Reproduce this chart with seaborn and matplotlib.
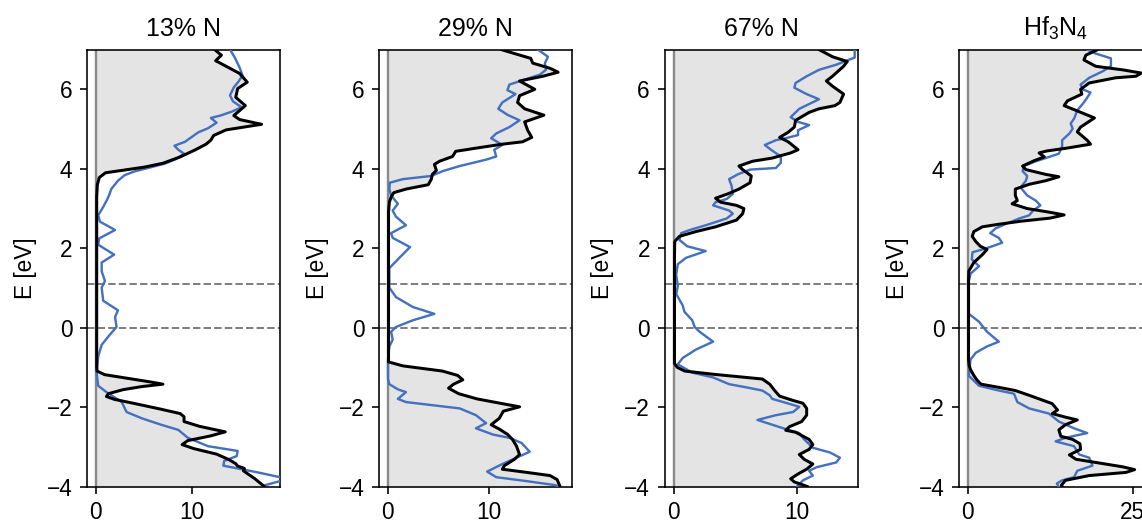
import matplotlib
matplotlib.use("Agg")
import matplotlib.pyplot as plt
import seaborn as sns
import pandas as pd

# ---- density of states, E in eV, DOS in states/eV ----
titles = ["13% N", "29% N", "67% N", "Hf$_3$N$_4$"]

# 13% N
e_tot_13 = [7.0, 6.86, 6.72, 6.58, 6.40, 6.18, 6.02, 5.80, 5.59, 5.34, 5.24, 5.12, 4.98, 4.84, 4.72,
            4.62, 4.48, 4.30, 4.14, 4.04, 3.97, 3.90, 3.78, 3.60, 3.30, 1.0, -1.0, -1.09, -1.18, -1.28,
            -1.36, -1.42, -1.48, -1.56, -1.66, -1.73, -1.80, -1.91, -2.05, -2.16, -2.24, -2.36, -2.48,
            -2.62, -2.72, -2.84, -2.94, -3.04, -3.18, -3.32, -3.42, -3.48, -3.54, -3.60, -3.80, -4.0]
d_tot_13 = [12.4, 13.1, 12.5, 13.6, 15.0, 15.8, 14.8, 14.6, 15.6, 14.4, 15.0, 17.3, 13.6, 12.3, 12.0,
            11.5, 10.4, 8.8, 7.0, 5.0, 3.0, 1.0, 0.35, 0.15, 0.08, 0.08, 0.08, 0.12, 0.9, 3.5,
            5.6, 7.0, 4.8, 2.8, 1.3, 1.1, 1.9, 4.1, 6.8, 8.8, 9.2, 9.2, 10.8,
            13.5, 12.0, 9.6, 9.0, 10.2, 12.6, 13.9, 14.6, 14.8, 15.5, 15.4, 16.6, 17.6]
e_ref_13 = [7.0, 6.80, 6.55, 6.35, 6.20, 6.05, 5.85, 5.70, 5.55, 5.44, 5.34, 5.28, 5.16, 5.02, 4.92,
            4.80, 4.68, 4.58, 4.48, 4.38, 4.25, 4.13, 4.03, 3.94, 3.84, 3.70, 3.49, 3.35, 3.24, 3.04,
            2.83, 2.67, 2.46, 2.25, 2.09, 1.84, 1.64, 1.42, 1.18, 1.01, 0.68, 0.44, 0.27, 0.02, -0.22,
            -0.43, -0.72, -1.13, -1.46, -1.62, -1.87, -2.12, -2.28, -2.44, -2.57, -2.77, -2.98, -3.10,
            -3.23, -3.35, -3.47, -3.64, -3.76, -3.80, -3.86, -3.96, -4.0]
d_ref_13 = [14.0, 14.5, 15.0, 15.3, 14.9, 14.4, 14.0, 14.3, 15.2, 14.2, 13.0, 12.0, 12.6, 11.7, 10.7,
            10.0, 9.3, 8.2, 8.6, 9.2, 8.4, 7.2, 5.6, 4.1, 3.0, 2.3, 1.6, 1.4, 1.2, 0.76,
            0.24, 0.42, 2.0, 0.35, 0.24, 1.9, 0.6, 0.6, 0.94, 0.6, 0.76, 2.3, 2.0, 2.15, 1.3,
            0.6, 0.24, 0.07, 0.24, 1.1, 2.7, 3.2, 4.8, 6.8, 8.6, 9.6, 11.7, 14.8,
            14.7, 13.4, 13.3, 16.9, 19.2, 20.2, 19.2, 17.7, 17.4]

# 29% N
e_tot_29 = [7.0, 6.90, 6.78, 6.66, 6.53, 6.43, 6.33, 6.21, 6.00, 5.84, 5.67, 5.51, 5.35, 5.18, 4.97,
            4.79, 4.68, 4.62, 4.52, 4.44, 4.31, 4.19, 4.11, 3.96, 3.86, 3.74, 3.60, 3.49, 3.40, 3.30,
            3.16, 2.91, -0.86, -0.96, -1.09, -1.20, -1.31, -1.42, -1.52, -1.66, -1.79, -1.91, -1.99,
            -2.10, -2.28, -2.44, -2.55, -2.68, -2.81, -2.98, -3.19, -3.31, -3.47, -3.56, -3.64, -3.72,
            -3.82, -4.0]
d_tot_29 = [11.2, 12.5, 14.1, 14.3, 16.0, 16.8, 15.3, 13.0, 14.5, 13.0, 12.8, 13.5, 15.4, 13.5, 13.8,
            14.2, 13.3, 11.3, 8.7, 6.7, 6.4, 5.1, 4.6, 4.8, 4.4, 4.3, 4.0, 1.8, 0.6, 0.35,
            0.16, 0.08, 0.08, 1.5, 5.4, 6.9, 7.4, 6.5, 6.0, 7.0, 8.8, 11.3, 13.0,
            11.4, 11.0, 10.2, 11.0, 11.8, 12.3, 12.7, 13.0, 12.5, 11.5, 11.3, 13.7, 16.0,
            16.7, 17.0]
e_ref_29 = [7.0, 6.82, 6.66, 6.49, 6.37, 6.27, 6.12, 5.98, 5.88, 5.67, 5.51, 5.36, 5.22, 5.05, 4.89,
            4.77, 4.60, 4.48, 4.31, 4.23, 4.07, 3.94, 3.82, 3.74, 3.65, 3.49, 3.33, 3.12, 2.95, 2.80,
            2.58, 2.38, 2.26, 2.03, 1.76, 1.50, 1.01, 0.77, 0.52, 0.35, 0.19, 0.02, -0.10, -0.30,
            -0.47, -0.80, -1.29, -1.42, -1.55, -1.62, -1.79, -1.87, -2.03, -2.20, -2.40, -2.53, -2.69,
            -2.77, -2.90, -3.12, -3.27, -3.43, -3.62, -3.76, -3.86, -3.96, -4.0]
d_ref_29 = [14.8, 15.8, 15.5, 15.6, 15.0, 13.8, 12.0, 11.8, 12.6, 11.3, 10.9, 11.8, 13.0, 12.0, 10.7,
            10.2, 11.3, 10.5, 10.7, 9.7, 7.1, 5.4, 4.3, 1.5, 0.2, 0.16, 0.33, 1.0, 0.49, 0.8,
            1.8, 0.33, 0.5, 2.2, 1.15, 0.16, 0.16, 0.82, 2.5, 4.6, 2.5, 0.82, 0.33, 0.49,
            0.16, 0.03, 0.03, 0.16, 1.0, 1.8, 1.0, 1.8, 7.1, 8.7, 9.7, 8.7, 10.4,
            12.0, 13.2, 14.0, 12.7, 11.3, 9.8, 10.7, 13.7, 16.5, 17.0]

# 67% N
e_tot_67 = [7.0, 6.82, 6.70, 6.58, 6.33, 6.21, 6.08, 5.88, 5.67, 5.59, 5.51, 5.42, 5.22, 5.05, 4.92,
            4.79, 4.68, 4.48, 4.40, 4.27, 4.19, 4.07, 3.98, 3.82, 3.65, 3.49, 3.37, 3.26, 3.16, 3.08,
            3.00, 2.87, 2.71, 2.54, 2.42, 2.30, 2.17, 1.75, -0.90, -1.00, -1.09, -1.17, -1.29, -1.42,
            -1.58, -1.72, -1.83, -1.90, -2.03, -2.20, -2.36, -2.49, -2.58, -2.63, -2.81, -2.94, -3.06,
            -3.19, -3.31, -3.43, -3.56, -3.68, -3.80, -3.88, -4.0]
d_tot_67 = [11.8, 12.9, 14.1, 13.8, 12.9, 12.4, 12.9, 13.8, 13.5, 13.1, 11.8, 11.0, 9.9, 9.8, 9.3,
            8.6, 9.3, 10.1, 9.5, 8.0, 6.4, 5.3, 5.6, 6.3, 6.2, 5.3, 4.4, 3.4, 3.8, 5.1,
            5.7, 5.6, 5.1, 3.4, 1.8, 0.46, 0.08, 0.06, 0.06, 0.3, 0.9, 3.2, 7.2, 7.8,
            8.2, 8.6, 9.7, 10.5, 10.8, 10.8, 10.4, 9.4, 9.1, 9.9, 11.0, 11.3, 11.0,
            10.2, 10.6, 11.3, 10.8, 10.1, 9.5, 9.8, 10.9]
e_ref_67 = [7.0, 6.80, 6.62, 6.49, 6.33, 6.16, 6.04, 5.88, 5.75, 5.63, 5.51, 5.30, 5.18, 5.10, 4.97,
            4.85, 4.77, 4.72, 4.60, 4.48, 4.31, 4.15, 4.02, 3.98, 3.86, 3.74, 3.57, 3.37, 3.24, 3.16,
            3.08, 2.95, 2.87, 2.75, 2.58, 2.46, 2.38, 2.21, 2.05, 1.93, 1.76, 1.60, 1.34, 1.05, 0.85,
            0.56, 0.40, 0.19, 0.02, -0.10, -0.35, -0.55, -0.76, -0.92, -1.13, -1.25, -1.42, -1.50,
            -1.58, -1.70, -1.79, -1.87, -1.99, -2.12, -2.20, -2.32, -2.53, -2.65, -2.81, -3.02, -3.14,
            -3.27, -3.39, -3.51, -3.60, -3.72, -3.84, -4.0]
d_ref_67 = [14.7, 14.7, 13.2, 11.8, 10.8, 9.9, 9.8, 10.8, 11.8, 11.0, 10.2, 9.5, 10.1, 11.0, 10.1,
            10.1, 9.1, 8.3, 7.4, 7.9, 8.7, 8.7, 8.3, 6.2, 5.2, 4.5, 4.7, 4.8, 4.3, 3.4,
            3.2, 4.5, 4.8, 4.3, 2.6, 1.3, 0.6, 0.46, 1.1, 2.6, 1.0, 0.33, 0.2, 0.33, 0.2,
            0.73, 0.87, 1.5, 1.7, 2.1, 3.2, 1.8, 0.73, 0.33, 1.5, 3.2, 4.5, 5.9,
            7.2, 7.8, 8.0, 8.9, 10.2, 9.7, 8.3, 6.8, 8.9, 10.2, 10.6, 11.3, 12.7,
            13.5, 13.2, 11.6, 11.0, 11.3, 10.5, 10.0]

# Hf3N4
e_tot_hf = [7.0, 6.86, 6.74, 6.58, 6.49, 6.41, 6.33, 6.29, 6.16, 6.00, 5.88, 5.71, 5.59, 5.47, 5.28,
            5.05, 4.93, 4.72, 4.62, 4.52, 4.45, 4.40, 4.30, 4.20, 4.07, 3.98, 3.86, 3.80, 3.70, 3.61,
            3.49, 3.33, 3.20, 3.12, 3.00, 2.91, 2.84, 2.76, 2.68, 2.60, 2.54, 2.42, 2.30, 2.17, 2.05,
            1.97, 1.84, 1.64, 1.43, 1.20, -0.80, -0.95, -1.05, -1.20, -1.32, -1.42, -1.50, -1.58,
            -1.70, -1.91, -2.07, -2.16, -2.25, -2.32, -2.44, -2.57, -2.73, -2.81, -2.92, -3.06, -3.20,
            -3.31, -3.43, -3.50, -3.57, -3.64, -3.72, -3.84, -3.96, -4.0]
d_tot_hf = [19.7, 17.9, 17.6, 19.4, 23.5, 26.3, 25.5, 22.4, 18.4, 17.1, 17.3, 15.1, 14.6, 16.4, 19.2,
            17.1, 16.6, 18.1, 18.6, 15.0, 12.0, 10.8, 11.6, 10.0, 8.3, 8.8, 11.8, 13.8, 11.8, 9.3,
            7.2, 7.2, 7.5, 6.7, 9.0, 12.3, 14.6, 12.5, 8.0, 4.5, 2.2, 0.9, 0.66, 1.2, 1.9,
            2.9, 2.2, 0.9, 0.15, 0.1, 0.1, 0.2, 0.4, 0.9, 1.4, 2.0, 4.7, 7.2,
            9.3, 12.8, 13.6, 12.8, 14.8, 16.6, 14.8, 13.8, 14.1, 15.9, 17.0, 17.1, 15.4,
            16.4, 20.9, 23.5, 25.3, 24.0, 18.4, 14.8, 14.2, 14.3]
e_ref_hf = [7.0, 6.90, 6.78, 6.58, 6.45, 6.29, 6.12, 6.00, 5.92, 5.79, 5.63, 5.47, 5.26, 5.14, 5.01,
            4.89, 4.72, 4.56, 4.38, 4.27, 4.19, 4.07, 3.94, 3.82, 3.70, 3.53, 3.33, 3.20, 3.08, 2.95,
            2.83, 2.75, 2.63, 2.50, 2.38, 2.26, 2.14, 2.05, 1.97, 1.90, 1.72, 1.55, 1.36, 1.18, 0.35,
            0.15, -0.10, -0.35, -0.47, -0.63, -0.80, -1.21, -1.46, -1.58, -1.66, -1.87, -2.03, -2.16,
            -2.36, -2.53, -2.65, -2.77, -2.86, -2.98, -3.19, -3.27, -3.47, -3.60, -3.76, -3.84, -3.92,
            -4.0]
d_ref_hf = [18.1, 19.4, 21.7, 21.7, 20.4, 18.4, 17.1, 17.4, 18.6, 18.1, 17.4, 16.6, 16.1, 15.6, 15.9,
            15.4, 14.3, 14.3, 13.8, 11.8, 10.3, 8.5, 8.3, 9.0, 8.8, 8.0, 9.0, 10.3, 11.0, 9.9,
            9.3, 7.8, 6.0, 4.2, 3.4, 4.7, 5.2, 3.7, 2.2, 0.7, 0.6, 1.7, 0.4, 0.15, 0.15,
            1.7, 2.9, 4.7, 2.9, 1.2, 0.4, 0.15, 1.7, 4.7, 7.0, 7.5, 9.3, 12.3,
            13.8, 16.1, 18.1, 14.8, 13.3, 16.1, 16.9, 18.4, 18.9, 16.6, 16.1, 14.3, 13.5,
            13.8]

x_limits = [(-0.9, 19.2), (-0.83, 18.15), (-0.71, 14.93), (-1.3, 27.9)]
x_ticks = [[0, 10], [0, 10], [0, 10], [0, 25]]
y_ticks = [-4, -2, 0, 2, 4, 6]
band_edges = [0.0, 1.1]

panels = [
    (e_tot_13, d_tot_13, e_ref_13, d_ref_13),
    (e_tot_29, d_tot_29, e_ref_29, d_ref_29),
    (e_tot_67, d_tot_67, e_ref_67, d_ref_67),
    (e_tot_hf, d_tot_hf, e_ref_hf, d_ref_hf),
]

sns.set_theme(style="ticks")
plt.rcParams["font.family"] = ["Liberation Sans", "DejaVu Sans"]
plt.rcParams["mathtext.default"] = "regular"
plt.rcParams["axes.linewidth"] = 0.8
plt.rcParams["xtick.major.width"] = 0.8
plt.rcParams["ytick.major.width"] = 0.8

DPI = 144
fig = plt.figure(figsize=(1142 / DPI, 531 / DPI), dpi=DPI)

lefts_px = [87.3, 379.3, 665.0, 959.3]
width_px = 192.5
bottom = (531 - 486.7) / 531
height = 437.1 / 531

BLUE = "#4470c0"
FILL = "#e4e4e4"
TICK_FS = 11.3
TITLE_FS = 12.5

for i, (title, (et, dt, er, dr)) in enumerate(zip(titles, panels)):
    ax = fig.add_axes([lefts_px[i] / 1142, bottom, width_px / 1142, height])
    ax.set_facecolor("white")
    ax.fill_betweenx(et, 0, dt, color=FILL, lw=0, zorder=1)
    ax.axvline(0, color="#8a8a8a", lw=1.2, zorder=2)
    for e0 in band_edges:
        ax.axhline(e0, color="#808080", lw=1.0, ls="--", zorder=2)
    sns.lineplot(data=pd.DataFrame({"dos": dr, "E": er}), x="dos", y="E", sort=False,
                 estimator=None, color=BLUE, lw=1.2, ax=ax, zorder=3)
    sns.lineplot(data=pd.DataFrame({"dos": dt, "E": et}), x="dos", y="E", sort=False,
                 estimator=None, color="black", lw=1.5, ax=ax, zorder=4)
    ax.set_xlim(*x_limits[i])
    ax.set_ylim(-4, 7)
    ax.set_xticks(x_ticks[i])
    ax.set_yticks(y_ticks)
    ax.tick_params(axis="both", labelsize=TICK_FS, length=3.5, color="black", labelcolor="black")
    ax.tick_params(axis="y", pad=4)
    ax.set_xlabel("")
    ax.set_ylabel("E [eV]", fontsize=TICK_FS, color="black", labelpad=5)
    ax.set_title(title, fontsize=TITLE_FS, pad=7, color="black")
    for s in ax.spines.values():
        s.set_color("black")
        s.set_visible(True)

fig.savefig("out.png", dpi=DPI, facecolor="white")
